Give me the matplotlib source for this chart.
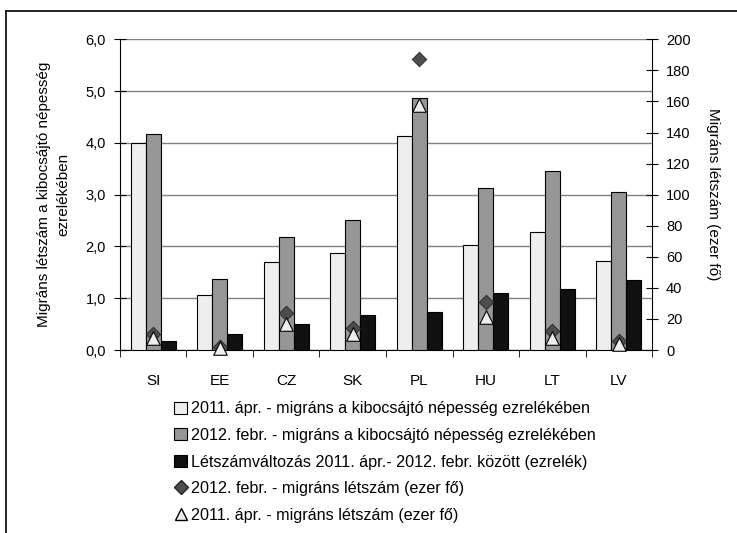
import numpy as np
import matplotlib
matplotlib.use('Agg')
import matplotlib.pyplot as plt
from matplotlib.lines import Line2D
from matplotlib.patches import Patch

plt.rcParams['font.family'] = ['Liberation Sans', 'DejaVu Sans']
plt.rcParams['font.size'] = 10.5

# adatok
orszagok = ['SI', 'EE', 'CZ', 'SK', 'PL', 'HU', 'LT', 'LV']
ezrelek_2011 = [4.0, 1.06, 1.69, 1.87, 4.14, 2.02, 2.28, 1.72]
ezrelek_2012 = [4.18, 1.37, 2.19, 2.52, 4.87, 3.12, 3.46, 3.05]
valtozas = [0.18, 0.31, 0.51, 0.67, 0.74, 1.11, 1.17, 1.35]
letszam_2012 = [10, 2, 24, 14, 187, 31, 12, 6]
letszam_2011 = [8, 1, 17, 10, 158, 21, 7.5, 4]

cimkek = ['2011. ápr. - migráns a kibocsájtó népesség ezrelékében',
          '2012. febr. - migráns a kibocsájtó népesség ezrelékében',
          'Létszámváltozás 2011. ápr.- 2012. febr. között (ezrelék)',
          '2012. febr. - migráns létszám (ezer fő)',
          '2011. ápr. - migráns létszám (ezer fő)']

fig = plt.figure(figsize=(7.37, 5.33), dpi=100)
ax = fig.add_axes([0.1628, 0.3433, 0.7219, 0.583])
ax2 = ax.twinx()

x = np.arange(len(orszagok))
w = 0.225
ax.bar(x - w, ezrelek_2011, w, color='#eeeeee', edgecolor='black', linewidth=0.8, zorder=3)
ax.bar(x, ezrelek_2012, w, color='#969696', edgecolor='black', linewidth=0.8, zorder=3)
ax.bar(x + w, valtozas, w, color='#111111', edgecolor='black', linewidth=0.8, zorder=3)

ax.set_ylim(0, 6)
ax.set_yticks(np.arange(0, 6.1, 1))
ax.set_yticklabels([('%.1f' % v).replace('.', ',') for v in np.arange(0, 6.1, 1)])
ax.yaxis.grid(True, color='#808080', linewidth=1)
ax.set_axisbelow(True)
ax.set_xlim(-0.5, len(orszagok) - 0.5)
ax.set_xticks(x)
ax.set_xticklabels(orszagok, fontsize=11)
ax.tick_params(axis='x', which='major', length=0, pad=17)
ax.set_xticks(np.arange(-0.5, len(orszagok)), minor=True)
ax.tick_params(axis='x', which='minor', length=5, direction='out', color='black')
ax.tick_params(axis='y', direction='inout', length=8, pad=6)
ax.set_ylabel('Migráns létszám a kibocsájtó népesség\nezrelékében', fontsize=11, labelpad=11,
              linespacing=1.45)
for s in ['top', 'right']:
    ax.spines[s].set_visible(False)

ax2.set_ylim(0, 200)
ax2.set_yticks(np.arange(0, 201, 20))
ax2.tick_params(axis='y', direction='inout', length=8, pad=6)
ax2.set_ylabel('Migráns létszám (ezer fő)', rotation=270, fontsize=11, labelpad=21)
for s in ['top', 'left', 'bottom']:
    ax2.spines[s].set_visible(False)

ax2.scatter(x, letszam_2012, marker='D', s=55, color='#4d4d4d', edgecolor='#222222', linewidth=0.6, zorder=4, clip_on=False)
ax2.scatter(x, letszam_2011, marker='^', s=95, color='#eeeeee', edgecolor='black', linewidth=0.8, zorder=5, clip_on=False)

kezelok = [Patch(facecolor='#eeeeee', edgecolor='black', linewidth=0.8),
           Patch(facecolor='#969696', edgecolor='black', linewidth=0.8),
           Patch(facecolor='#111111', edgecolor='black', linewidth=0.8),
           Line2D([], [], marker='D', linestyle='', markersize=7, color='#4d4d4d', markeredgecolor='#222222'),
           Line2D([], [], marker='^', linestyle='', markersize=9, color='#eeeeee', markeredgecolor='black')]
fig.legend(kezelok, cimkek, loc='upper left', bbox_to_anchor=(0.228, 0.259),
           frameon=False, fontsize=11.6, handlelength=0.75, handleheight=0.75,
           handletextpad=0.3, labelspacing=0.72, borderaxespad=0)

# keret
fig.add_artist(Line2D([6/737, 1], [1 - 11/533, 1 - 11/533], color='black', linewidth=1.2))
fig.add_artist(Line2D([6/737, 6/737], [0, 1 - 11/533], color='black', linewidth=1.2))

fig.savefig('out.png', dpi=100)
